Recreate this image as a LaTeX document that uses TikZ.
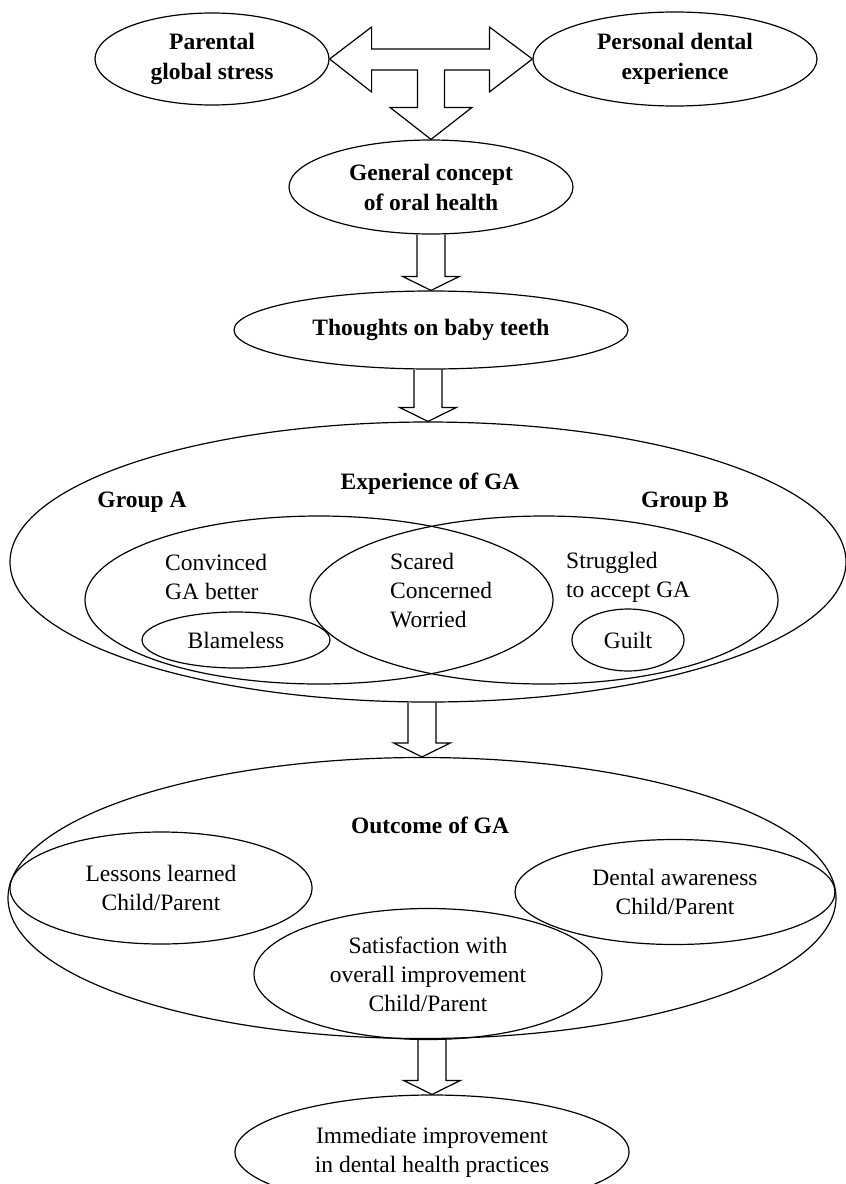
\documentclass[tikz,border=0pt]{standalone}
\usepackage{fontspec}
\setmainfont{Liberation Serif}
\usetikzlibrary{shapes.geometric,calc}

\tikzset{
  oval/.style={draw, ellipse, line width=1.2pt, inner sep=0pt, align=center},
  txt/.style={font=\fontsize{23.5}{29}\selectfont},
  hd/.style={font=\fontsize{23.5}{30}\selectfont\bfseries, align=center},
  blockline/.style={draw, line width=1.2pt, line join=miter},
}
% hollow block arrow from one oval down to the next
\newcommand{\blockdown}[2]{%
  \draw[blockline] let \p1=(#1.south), \p2=(#2.north) in
    (\x2-14pt,\y1) -- (\x2-14pt,\y2+14pt) -- (\x2-28.5pt,\y2+14pt) -- (\p2)
    -- (\x2+28.5pt,\y2+14pt) -- (\x2+14pt,\y2+14pt) -- (\x2+14pt,\y1);}

\begin{document}
\begin{tikzpicture}[x=1pt,y=-1pt]
\useasboundingbox (0,0) rectangle (846,1184);

%sopra
\node[oval,hd,minimum width=234,minimum height=92] (stress) at (212,59) {Parental\\global stress};
\node[oval,hd,minimum width=284,minimum height=94] (persdent) at (675,59) {Personal dental\\experience};
\node[oval,hd,minimum width=284,minimum height=94] (concept) at (431,187) {General concept\\of oral health};
\node[oval,hd,minimum width=394,minimum height=78] (baby) at (431,330) {Thoughts on baby teeth};

%freccia a T
\draw[blockline] let \p1=(stress.east), \p2=(persdent.west), \p3=(concept.north) in
  (\p1) -- (\x1+42pt,\y1+32pt) -- (\x1+42pt,\y1+10pt) -- (\x2-43pt,\y1+10pt)
  -- (\x2-43pt,\y2+32pt) -- (\p2) -- (\x2-43pt,\y2-33pt) -- (\x2-43pt,\y2-11pt)
  -- (\x3+13.5pt,\y2-11pt) -- (\x3+13.5pt,\y3+32pt) -- (\x3+41pt,\y3+32pt) -- (\p3)
  -- (\x3-41pt,\y3+32pt) -- (\x3-13.5pt,\y3+32pt) -- (\x3-13.5pt,\y1-11pt)
  -- (\x1+42pt,\y1-11pt) -- (\x1+42pt,\y1-33pt) -- cycle;

%esperienza
\node[oval,minimum width=836,minimum height=280] (exper) at (428,562) {};
\node[oval,minimum width=468,minimum height=168] (grpA) at (319,600) {};
\node[oval,minimum width=468,minimum height=168] (grpB) at (544,600) {};
\node[oval,txt,minimum width=188,minimum height=56] (blame) at (236,640) {Blameless};
\node[oval,txt,minimum width=112,minimum height=62] (guilt) at (628,640) {Guilt};
\node[hd] (experlbl) at (430,484) {Experience of GA};
\node[hd] (grpAlbl) at (142,502) {Group A};
\node[hd] (grpBlbl) at (685,502) {Group B};
\node[txt,anchor=west,align=left,inner sep=0pt] (conv) at (165,577) {Convinced\\GA better};
\node[txt,anchor=west,align=left,inner sep=0pt] (scared) at (390,591) {Scared\\Concerned\\Worried};
\node[txt,anchor=west,align=left,inner sep=0pt] (strug) at (566,577) {Struggled\\to accept GA};

%esito
\node[oval,minimum width=828,minimum height=281] (outcome) at (422,898) {};
\node[hd] (outclbl) at (430,825) {Outcome of GA};
\node[oval,txt,minimum width=302,minimum height=112] (lessons) at (161,888) {Lessons learned\\Child/Parent};
\node[oval,txt,minimum width=320,minimum height=105] (awar) at (675,892) {Dental awareness\\Child/Parent};
\node[oval,txt,minimum width=348,minimum height=131] (satis) at (428,974) {Satisfaction with\\overall improvement\\Child/Parent};
\node[oval,txt,minimum width=394,minimum height=114] (immed) at (432,1152) {Immediate improvement\\in dental health practices};

%frecce
\blockdown{concept}{baby}
\blockdown{baby}{exper}
\blockdown{exper}{outcome}
\blockdown{outcome}{immed}

\end{tikzpicture}
\end{document}
